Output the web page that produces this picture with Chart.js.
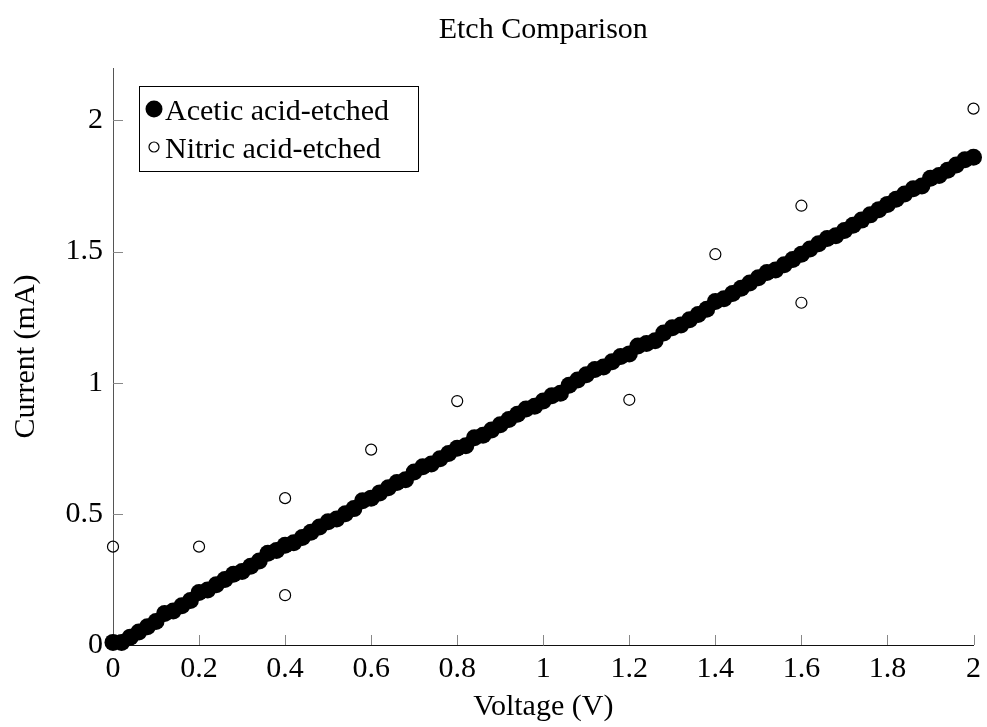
<!DOCTYPE html>
<html>
<head>
<meta charset="utf-8">
<title>Etch Comparison</title>
<script src="https://cdn.jsdelivr.net/npm/chart.js@4.4.1/dist/chart.umd.min.js"></script>
<style>
  html, body { margin: 0; padding: 0; background: #fff; }
  canvas { display: block; }
</style>
</head>
<body>
<canvas id="etchChart" width="987" height="727"></canvas>
<script>
// sweep voltages (V) for the acetic sample
const voltage = [
  0.00, 0.02, 0.04, 0.06, 0.08, 0.10, 0.12, 0.14, 0.16, 0.18,
  0.20, 0.22, 0.24, 0.26, 0.28, 0.30, 0.32, 0.34, 0.36, 0.38,
  0.40, 0.42, 0.44, 0.46, 0.48, 0.50, 0.52, 0.54, 0.56, 0.58,
  0.60, 0.62, 0.64, 0.66, 0.68, 0.70, 0.72, 0.74, 0.76, 0.78,
  0.80, 0.82, 0.84, 0.86, 0.88, 0.90, 0.92, 0.94, 0.96, 0.98,
  1.00, 1.02, 1.04, 1.06, 1.08, 1.10, 1.12, 1.14, 1.16, 1.18,
  1.20, 1.22, 1.24, 1.26, 1.28, 1.30, 1.32, 1.34, 1.36, 1.38,
  1.40, 1.42, 1.44, 1.46, 1.48, 1.50, 1.52, 1.54, 1.56, 1.58,
  1.60, 1.62, 1.64, 1.66, 1.68, 1.70, 1.72, 1.74, 1.76, 1.78,
  1.80, 1.82, 1.84, 1.86, 1.88, 1.90, 1.92, 1.94, 1.96, 1.98,
  2.00
];
// measured current (mA), acetic acid-etched
const aceticCurrent = [
  0.01, 0.01, 0.03, 0.05, 0.07, 0.09, 0.12, 0.13, 0.15, 0.17,
  0.20, 0.21, 0.23, 0.25, 0.27, 0.28, 0.30, 0.32, 0.35, 0.36,
  0.38, 0.39, 0.41, 0.43, 0.45, 0.47, 0.48, 0.50, 0.52, 0.55,
  0.56, 0.58, 0.60, 0.62, 0.63, 0.66, 0.68, 0.69, 0.71, 0.73,
  0.75, 0.76, 0.79, 0.80, 0.82, 0.84, 0.86, 0.88, 0.90, 0.91,
  0.93, 0.95, 0.96, 0.99, 1.01, 1.03, 1.05, 1.06, 1.08, 1.10,
  1.11, 1.14, 1.15, 1.16, 1.19, 1.21, 1.22, 1.24, 1.26, 1.28,
  1.31, 1.32, 1.34, 1.36, 1.38, 1.40, 1.42, 1.43, 1.45, 1.47,
  1.49, 1.51, 1.53, 1.55, 1.56, 1.58, 1.60, 1.62, 1.64, 1.66,
  1.68, 1.70, 1.72, 1.74, 1.75, 1.78, 1.79, 1.81, 1.83, 1.85,
  1.86
];
// nitric acid-etched sample, sparse readings
const nitricVoltage = [0, 0.2, 0.4, 0.4, 0.6, 0.8, 1.2, 1.4, 1.6, 1.6, 2.0];
const nitricCurrent = [0.375, 0.375, 0.56, 0.19, 0.745, 0.93, 0.935, 1.49, 1.675, 1.305, 2.045];

const xTicks = [0, 0.2, 0.4, 0.6, 0.8, 1, 1.2, 1.4, 1.6, 1.8, 2];
const yTicks = [0, 0.5, 1, 1.5, 2];

const serif = "'Liberation Serif', 'DejaVu Serif', serif";
const fontPx = 30;
const chartTitle = "Etch Comparison";

// pgfplots style ticks: short marks pointing into the plot
const innerTicks = {
  id: "innerTicks",
  beforeDatasetsDraw(chart) {
    const { ctx, chartArea, scales } = chart;
    ctx.save();
    ctx.strokeStyle = "#888";
    ctx.lineWidth = 1;
    ctx.beginPath();
    xTicks.forEach(v => {
      const px = Math.round(scales.x.getPixelForValue(v)) + 0.5;
      ctx.moveTo(px, chartArea.bottom);
      ctx.lineTo(px, chartArea.bottom - 10);
    });
    yTicks.forEach(v => {
      const py = Math.round(scales.y.getPixelForValue(v)) + 0.5;
      ctx.moveTo(chartArea.left, py);
      ctx.lineTo(chartArea.left + 10, py);
    });
    ctx.stroke();
    ctx.restore();
  }
};

// title centred over the axes, plus a boxed legend in the upper left corner
const boxLegend = {
  id: "boxLegend",
  afterDraw(chart) {
    const { ctx, chartArea } = chart;
    const sets = chart.data.datasets;
    ctx.save();
    ctx.font = fontPx + "px " + serif;
    ctx.fillStyle = "#000";
    ctx.textAlign = "center";
    ctx.textBaseline = "middle";
    ctx.fillText(chartTitle, (chartArea.left + chartArea.right) / 2, 30);

    const x0 = 139, y0 = 86, w = 279, h = 85;
    ctx.fillStyle = "#fff";
    ctx.fillRect(x0, y0, w, h);
    ctx.strokeStyle = "#000";
    ctx.lineWidth = 1;
    ctx.strokeRect(x0 + 0.5, y0 + 0.5, w, h);
    ctx.textAlign = "left";
    ctx.textBaseline = "alphabetic";
    sets.forEach((ds, i) => {
      const cy = y0 + 23 + i * 38;
      ctx.beginPath();
      ctx.arc(x0 + 15, cy, i === 0 ? 8.5 : 5, 0, Math.PI * 2);
      if (i === 0) {
        ctx.fillStyle = "#000";
        ctx.fill();
      } else {
        ctx.lineWidth = 1.2;
        ctx.stroke();
      }
      ctx.fillStyle = "#000";
      ctx.fillText(ds.label, x0 + 26, cy + 11);
    });
    ctx.restore();
  }
};

const ctx = document.getElementById("etchChart").getContext("2d");

new Chart(ctx, {
  type: "scatter",
  data: {
    datasets: [
      {
        label: "Acetic acid-etched",
        data: voltage.map((v, i) => ({ x: v, y: aceticCurrent[i] })),
        pointRadius: 8.5,
        pointBackgroundColor: "#000",
        pointBorderWidth: 0,
        clip: false
      },
      {
        label: "Nitric acid-etched",
        data: nitricVoltage.map((v, i) => ({ x: v, y: nitricCurrent[i] })),
        pointRadius: 5.5,
        pointBackgroundColor: "rgba(0,0,0,0)",
        pointBorderColor: "#000",
        pointBorderWidth: 1.2,
        clip: false
      }
    ]
  },
  options: {
    responsive: false,
    animation: false,
    devicePixelRatio: 1,
    layout: { padding: { left: 0, right: 10, top: 68, bottom: 0 } },
    plugins: {
      legend: { display: false },
      tooltip: { enabled: false },
      title: { display: false }
    },
    scales: {
      x: {
        type: "linear",
        min: 0,
        max: 2,
        afterBuildTicks: s => { s.ticks = xTicks.map(v => ({ value: v })); },
        afterFit: s => { s.height = 82; },
        grid: { display: false, drawTicks: false },
        border: { display: true, color: "#111", width: 1 },
        ticks: {
          color: "#000",
          padding: 6,
          font: { family: serif, size: fontPx },
          callback: v => String(v)
        },
        title: {
          display: true,
          text: "Voltage (V)",
          color: "#000",
          font: { family: serif, size: fontPx },
          padding: { top: 0, bottom: 2 }
        }
      },
      y: {
        type: "linear",
        min: 0,
        max: 2.2,
        afterBuildTicks: s => { s.ticks = yTicks.map(v => ({ value: v })); },
        afterFit: s => { s.width = 113; },
        grid: { display: false, drawTicks: false },
        border: { display: true, color: "#555", width: 1 },
        ticks: {
          color: "#000",
          padding: 10,
          font: { family: serif, size: fontPx },
          callback: v => String(v)
        },
        title: {
          display: true,
          text: "Current (mA)",
          color: "#000",
          font: { family: serif, size: fontPx },
          padding: { top: 8, bottom: 0 }
        }
      }
    }
  },
  plugins: [innerTicks, boxLegend]
});
</script>
</body>
</html>
